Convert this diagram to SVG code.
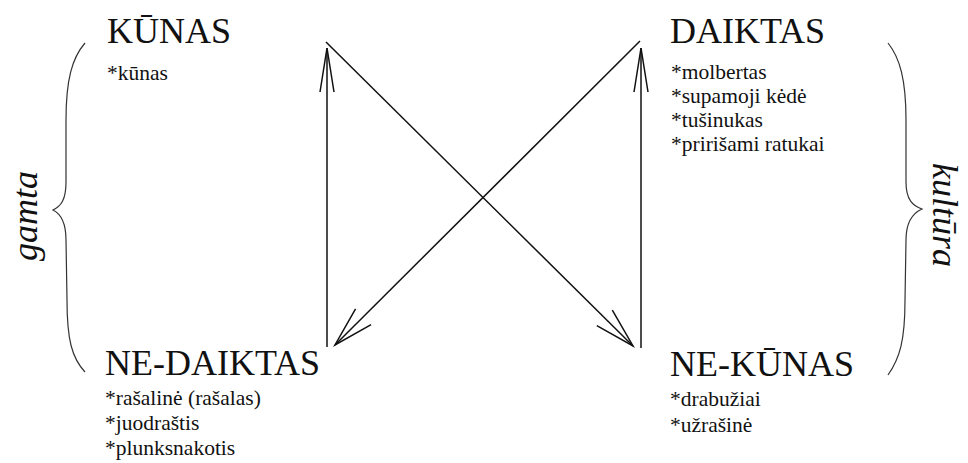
<svg xmlns="http://www.w3.org/2000/svg" width="968" height="463" viewBox="0 0 968 463">
<style>
text{fill:#111}
.title{font-size:36px}
.item{font-size:21.5px}
.side{font-size:36px;font-style:italic}
.line{fill:none;stroke:#111;stroke-width:1.5}
.brace{fill:none;stroke:#333;stroke-width:1.2}
</style>
<defs>
<marker id="headV" markerUnits="userSpaceOnUse" markerWidth="60" markerHeight="30" refX="0" refY="0" viewBox="-50 -15 60 30" orient="auto" overflow="visible">
<path d="M-44,-7 L0,0 L-44,7" fill="none" stroke="#111" stroke-width="1.5"/>
</marker>
<marker id="headD" markerUnits="userSpaceOnUse" markerWidth="60" markerHeight="30" refX="0" refY="0" viewBox="-50 -15 60 30" orient="auto" overflow="visible">
<path d="M-40,-11 L0,0 L-40,11" fill="none" stroke="#111" stroke-width="1.5"/>
</marker>
</defs>
<rect width="968" height="463" fill="#fff"/>
<g id="connectors">
<line class="line" x1="327" y1="347" x2="327" y2="48" marker-end="url(#headV)"/>
<line class="line" x1="641" y1="348" x2="641" y2="48" marker-end="url(#headV)"/>
<line class="line" x1="326" y1="42" x2="633" y2="346" marker-end="url(#headD)"/>
<line class="line" x1="640" y1="41" x2="335" y2="345" marker-end="url(#headD)"/>
</g>
<g font-family="Liberation Serif, serif">
<g id="kunas">
<text class="title" x="107" y="43">KŪNAS</text>
<text class="item" x="107" y="80">*kūnas</text>
</g>
<g id="daiktas">
<text class="title" x="670" y="43">DAIKTAS</text>
<text class="item" x="671" y="79">*molbertas</text>
<text class="item" x="671" y="103">*supamoji kėdė</text>
<text class="item" x="671" y="127">*tušinukas</text>
<text class="item" x="671" y="151">*pririšami ratukai</text>
</g>
<g id="ne-daiktas">
<text class="title" x="105" y="375">NE-DAIKTAS</text>
<text class="item" x="105" y="405">*rašalinė (rašalas)</text>
<text class="item" x="105" y="430">*juodraštis</text>
<text class="item" x="105" y="455">*plunksnakotis</text>
</g>
<g id="ne-kunas">
<text class="title" x="670" y="376">NE-KŪNAS</text>
<text class="item" x="670" y="406">*drabužiai</text>
<text class="item" x="670" y="432">*užrašinė</text>
</g>
<g id="gamta">
<path class="brace" d="M85,43 C72,58 66,80 66,120 L66,182 C66,200 61,206 53,210 C61,214 66,222 66,240 L67,300 C67,340 72,358 85,372"/>
<text class="side" transform="translate(37,216) rotate(-90)" text-anchor="middle">gamta</text>
</g>
<g id="kultura">
<path class="brace" d="M888,43 C900,58 906,80 906,120 L906,182 C906,200 913,206 922,209 C913,213 906,222 906,240 L905,300 C905,340 900,358 888,375"/>
<text class="side" transform="translate(933,215) rotate(90)" text-anchor="middle">kultūra</text>
</g>
</g>
</svg>
